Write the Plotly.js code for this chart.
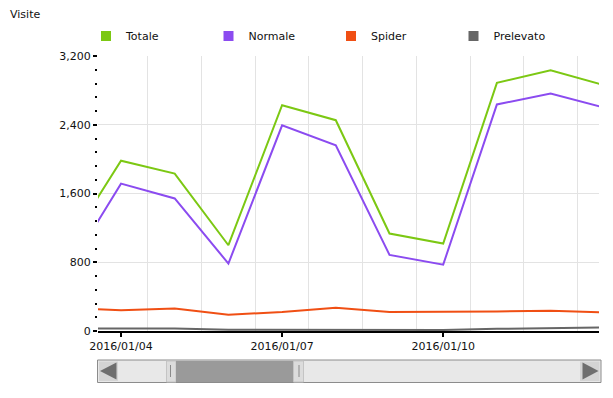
<!DOCTYPE html>
<html><head><meta charset="utf-8">
<script src="https://cdn.plot.ly/plotly-3.0.1.min.js"></script>
<style>html,body{margin:0;padding:0;background:#fff;} #chart{width:613px;height:398px;}</style>
</head><body><div id="chart"></div>
<script>
// ---- data ----
const dates = ['2016-01-03','2016-01-04','2016-01-05','2016-01-06','2016-01-07','2016-01-08','2016-01-09','2016-01-10','2016-01-11','2016-01-12','2016-01-13'];
const totale    = [995, 1982, 1832, 998, 2627, 2453, 1134, 1017, 2887, 3035, 2860];
const normale   = [696, 1715, 1542, 785, 2394, 2162, 885, 772, 2636, 2764, 2598];
const spider    = [269, 241, 261, 190, 221, 272, 221, 221, 228, 235, 216];
const prelevato = [30, 30, 28, 14, 14, 16, 12, 12, 25, 35, 40];
const seriesNames = ['Totale','Normale','Spider','Prelevato'];
const seriesValues = [totale, normale, spider, prelevato];
const seriesColors = ['#7cc813','#8b4bf0','#f04f14','#666666'];
const viewRange = ['2016-01-03 13:43','2016-01-12 21:38'];
const yTitle = 'Visite';

// ---- geometry helpers (pixels -> paper) ----
const L=98, R=599, T=56, B=331;
const px = x => (x-L)/(R-L);
const py = y => (B-y)/(B-T);

const traces = [];
// data lines (drawn bottom to top)
for (let i = seriesNames.length-1; i >= 0; i--) {
  traces.push({
    type:'scatter', mode:'lines', x:dates, y:seriesValues[i],
    name:seriesNames[i], showlegend:false, hoverinfo:'skip',
    line:{color:seriesColors[i], width:2}
  });
}
// legend swatches
for (let i = 0; i < seriesNames.length; i++) {
  traces.push({
    type:'scatter', mode:'markers', x:[null], y:[null], name:seriesNames[i],
    marker:{symbol:'square', size:10, color:seriesColors[i]}, showlegend:true
  });
}

// scrollbar decoration
const shapes = [];
function rect(x0,x1,y0,y1,fill,lineColor,lw){
  shapes.push({type:'rect', xref:'paper', yref:'paper', x0:px(x0), x1:px(x1), y0:py(y1), y1:py(y0),
    fillcolor:fill, line:{color:lineColor||fill, width:lw||0}, layer:'above'});
}
function path(d, fill){
  shapes.push({type:'path', xref:'paper', yref:'paper', path:d, fillcolor:fill, line:{width:0}, layer:'above'});
}
function P(x,y){ return px(x)+','+py(y); }
rect(97.5, 601, 360, 382.5, '#e8e8e8', '#8c8c8c', 1);
rect(99, 118, 361.5, 381, '#d4d4d4');
rect(580, 599.5, 361.5, 381, '#d4d4d4');
path('M'+P(100,371)+' L'+P(116.5,362.5)+' L'+P(116.5,379.5)+' Z', '#6e6e6e');
path('M'+P(598.5,371)+' L'+P(582.5,362.5)+' L'+P(582.5,379.5)+' Z', '#6e6e6e');
rect(166.5, 176, 361, 382, '#dcdcdc', '#c4c4c4', 1);
rect(176, 293.5, 361, 382, '#9a9a9a');
rect(293.5, 303.5, 361, 382, '#dcdcdc', '#c4c4c4', 1);
rect(170, 171, 365, 377, '#8a8a8a');
rect(298.5, 299.5, 365, 377, '#8a8a8a');

const layout = {
  width:613, height:398,
  margin:{l:L, r:613-R, t:T, b:398-B},
  paper_bgcolor:'#fff', plot_bgcolor:'#fff',
  font:{family:'DejaVu Sans, Verdana, sans-serif', size:11, color:'#111'},
  title:{text:yTitle, font:{size:11, color:'#111'}, xref:'container', yref:'container',
         x:10/613, xanchor:'left', y:1-14/398, yanchor:'middle'},
  showlegend:true,
  legend:{orientation:'h', x:px(86), xanchor:'left', y:py(36), yanchor:'middle',
          entrywidth:77.5, entrywidthmode:'pixels', font:{size:11, color:'#111'},
          bgcolor:'rgba(0,0,0,0)', itemclick:false, itemdoubleclick:false},
  xaxis:{type:'date', range:viewRange, tickformat:'%Y/%m/%d', tick0:'2016-01-04', dtick:3*86400000,
         ticks:'outside', ticklen:4, tickwidth:2, tickcolor:'#000',
         showline:true, linecolor:'#000', linewidth:2, showgrid:false, zeroline:false,
         minor:{tick0:'2016-01-03 12:00', dtick:86400000, ticks:'', showgrid:true, gridcolor:'#e3e3e3', gridwidth:1},
         tickfont:{size:11, color:'#111'}, fixedrange:true},
  xaxis2:{type:'date', overlaying:'x', range:viewRange, tick0:'2016-01-04', dtick:86400000,
          ticks:'outside', ticklen:3, tickwidth:1, tickcolor:'#000', showticklabels:false,
          showgrid:false, showline:false, zeroline:false, fixedrange:true},
  yaxis:{range:[0,3200], tick0:0, dtick:800, tickformat:',d', ticks:'outside', ticklen:4, tickwidth:2,
         tickcolor:'#000', showgrid:true, gridcolor:'#e3e3e3', zeroline:false, showline:false,
         minor:{dtick:160, ticks:'outside', ticklen:2, tickwidth:2, tickcolor:'#000', showgrid:false},
         tickfont:{size:11, color:'#111'}, fixedrange:true},
  shapes:shapes
};
Plotly.newPlot('chart', traces, layout, {displayModeBar:false, staticPlot:true});
</script></body></html>
